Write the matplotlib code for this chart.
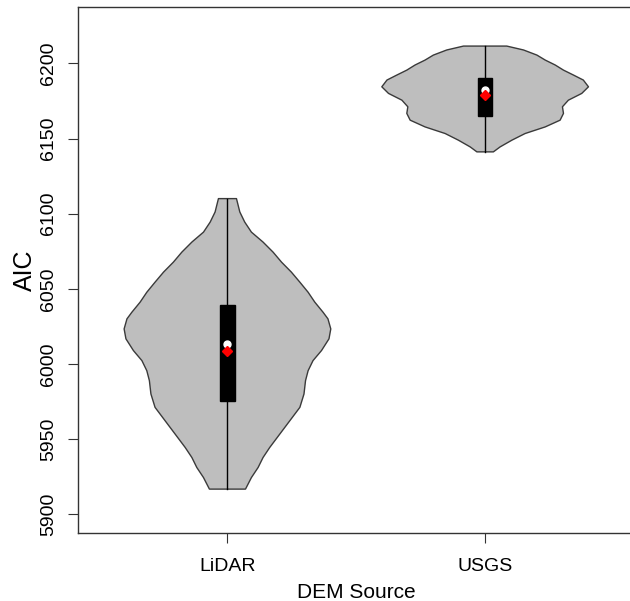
import numpy as np
import matplotlib.pyplot as plt

plt.rcParams['font.family'] = ['Liberation Sans', 'DejaVu Sans']

groups = ["LiDAR", "USGS"]

# density outlines: AIC levels and half widths (x units) of each violin
lidar_levels = [6110.0, 6101.1, 6094.4, 6087.7, 6081.1, 6074.4, 6067.7, 6061.1,
                6054.4, 6047.7, 6041.1, 6034.4, 6030.0, 6023.3, 6016.7, 6008.9,
                6002.2, 5995.5, 5988.9, 5980.0, 5971.1, 5962.2, 5953.3, 5944.4,
                5937.7, 5931.1, 5924.4, 5916.7]
lidar_width = [0.035, 0.048, 0.067, 0.093, 0.138, 0.177, 0.210, 0.248,
               0.281, 0.313, 0.339, 0.371, 0.390, 0.401, 0.394, 0.365,
               0.332, 0.313, 0.303, 0.297, 0.281, 0.242, 0.203, 0.164,
               0.138, 0.119, 0.093, 0.070]

usgs_levels = [6211.5, 6208.9, 6205.5, 6202.2, 6198.9, 6195.5, 6192.2, 6188.9,
               6184.4, 6180.0, 6175.5, 6171.1, 6166.7, 6162.2, 6157.7, 6153.3,
               6148.9, 6144.4, 6141.1]
usgs_width = [0.084, 0.149, 0.201, 0.233, 0.272, 0.304, 0.343, 0.381,
              0.401, 0.375, 0.323, 0.300, 0.304, 0.291, 0.233, 0.155,
              0.104, 0.058, 0.032]

# summary stats
q1 = [5975.5, 6164.9]
q3 = [6039.5, 6190.0]
medians = [6013.3, 6182.0]
means = [6008.9, 6178.9]
mins = [5916.7, 6141.1]
maxs = [6110.0, 6211.5]

fig = plt.figure(figsize=(6.3, 6.01), dpi=100)
ax = fig.add_axes([78 / 630, 68 / 601, (634.6 - 78) / 630, (594 - 68) / 601])

profiles = [(lidar_levels, lidar_width), (usgs_levels, usgs_width)]
for i, (lev, wid) in enumerate(profiles):
    pos = i + 1
    lev = np.array(lev)
    wid = np.array(wid)
    xs = np.concatenate([pos - wid, (pos + wid)[::-1]])
    ys = np.concatenate([lev, lev[::-1]])
    ax.fill(xs, ys, facecolor="#bebebe", edgecolor="#3a3a3a", linewidth=1.0,
            joinstyle="round", zorder=2)
    ax.plot([pos, pos], [mins[i], maxs[i]], color="black", linewidth=1.0, zorder=3)
    ax.add_patch(plt.Rectangle((pos - 0.028, q1[i]), 0.056, q3[i] - q1[i],
                               facecolor="black", edgecolor="black", zorder=4))
    ax.plot(pos, medians[i], "o", color="white", markersize=5, zorder=5)
    ax.plot(pos, means[i], "D", color="red", markersize=5, zorder=6)

ax.set_xlim(0.42, 2.58)
ax.set_ylim(5887.5, 6237.5)
ax.set_xticks([1, 2])
ax.set_xticklabels(groups, fontsize=14)
ax.set_yticks([5900, 5950, 6000, 6050, 6100, 6150, 6200])
ax.tick_params(axis="both", direction="out", length=7, width=0.8, color="#333333")
ax.tick_params(axis="x", pad=11)
ax.tick_params(axis="y", pad=8)
for lab in ax.get_yticklabels():
    lab.set_rotation(90)
    lab.set_va("center")
    lab.set_fontsize(14)

ax.set_xlabel("DEM Source", fontsize=15, labelpad=6)
ax.set_ylabel("AIC", fontsize=18, labelpad=2)
for sp in ax.spines.values():
    sp.set_linewidth(1.0)
    sp.set_color("#333333")

fig.savefig("out.png", dpi=100)
